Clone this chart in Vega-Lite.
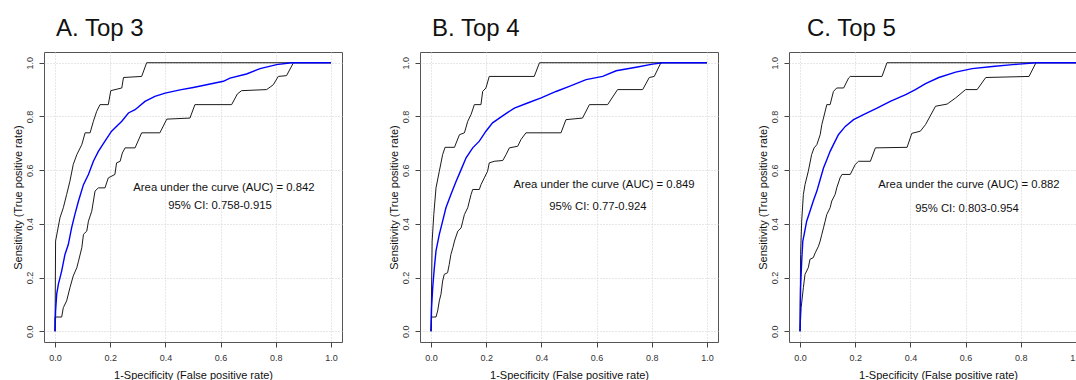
{
"$schema":"https://vega.github.io/schema/vega-lite/v6.json",
"background":"white",
"padding":{"left":11,"top":16,"right":0,"bottom":0},
"spacing":44,
"config":{"font":"Liberation Sans","view":{"stroke":"#555","strokeWidth":1},
"axis":{"domain":false,"grid":true,"gridColor":"#cfcfcf","gridDash":[1,2],"tickColor":"#444","tickSize":5,"tickWidth":1,"labelFont":"Liberation Sans","labelFontSize":9,"labelColor":"#333","titleFont":"Liberation Sans","titleFontSize":11,"titleFontWeight":"normal","titleColor":"#111"}},
"datasets":{
"roc":[
{"panel":"A","series":"upper","fpr":0,"tpr":0},{"panel":"A","series":"upper","fpr":0.002,"tpr":0.336},{"panel":"A","series":"upper","fpr":0.018,"tpr":0.423},{"panel":"A","series":"upper","fpr":0.03,"tpr":0.46},{"panel":"A","series":"upper","fpr":0.042,"tpr":0.509},{"panel":"A","series":"upper","fpr":0.054,"tpr":0.559},{"panel":"A","series":"upper","fpr":0.066,"tpr":0.621},{"panel":"A","series":"upper","fpr":0.079,"tpr":0.658},{"panel":"A","series":"upper","fpr":0.097,"tpr":0.695},{"panel":"A","series":"upper","fpr":0.109,"tpr":0.739},{"panel":"A","series":"upper","fpr":0.127,"tpr":0.739},{"panel":"A","series":"upper","fpr":0.139,"tpr":0.782},{"panel":"A","series":"upper","fpr":0.151,"tpr":0.819},{"panel":"A","series":"upper","fpr":0.163,"tpr":0.844},{"panel":"A","series":"upper","fpr":0.193,"tpr":0.844},{"panel":"A","series":"upper","fpr":0.202,"tpr":0.896},{"panel":"A","series":"upper","fpr":0.242,"tpr":0.906},{"panel":"A","series":"upper","fpr":0.248,"tpr":0.945},{"panel":"A","series":"upper","fpr":0.314,"tpr":0.949},{"panel":"A","series":"upper","fpr":0.332,"tpr":1},{"panel":"A","series":"upper","fpr":1,"tpr":1},
{"panel":"A","series":"lower","fpr":0,"tpr":0},{"panel":"A","series":"lower","fpr":0,"tpr":0.053},{"panel":"A","series":"lower","fpr":0.024,"tpr":0.053},{"panel":"A","series":"lower","fpr":0.03,"tpr":0.088},{"panel":"A","series":"lower","fpr":0.042,"tpr":0.113},{"panel":"A","series":"lower","fpr":0.054,"tpr":0.162},{"panel":"A","series":"lower","fpr":0.066,"tpr":0.206},{"panel":"A","series":"lower","fpr":0.079,"tpr":0.237},{"panel":"A","series":"lower","fpr":0.085,"tpr":0.261},{"panel":"A","series":"lower","fpr":0.097,"tpr":0.311},{"panel":"A","series":"lower","fpr":0.103,"tpr":0.361},{"panel":"A","series":"lower","fpr":0.115,"tpr":0.373},{"panel":"A","series":"lower","fpr":0.121,"tpr":0.41},{"panel":"A","series":"lower","fpr":0.133,"tpr":0.447},{"panel":"A","series":"lower","fpr":0.145,"tpr":0.522},{"panel":"A","series":"lower","fpr":0.157,"tpr":0.534},{"panel":"A","series":"lower","fpr":0.181,"tpr":0.534},{"panel":"A","series":"lower","fpr":0.193,"tpr":0.571},{"panel":"A","series":"lower","fpr":0.217,"tpr":0.584},{"panel":"A","series":"lower","fpr":0.223,"tpr":0.627},{"panel":"A","series":"lower","fpr":0.236,"tpr":0.633},{"panel":"A","series":"lower","fpr":0.244,"tpr":0.664},{"panel":"A","series":"lower","fpr":0.254,"tpr":0.683},{"panel":"A","series":"lower","fpr":0.29,"tpr":0.683},{"panel":"A","series":"lower","fpr":0.314,"tpr":0.739},{"panel":"A","series":"lower","fpr":0.38,"tpr":0.739},{"panel":"A","series":"lower","fpr":0.405,"tpr":0.79},{"panel":"A","series":"lower","fpr":0.489,"tpr":0.794},{"panel":"A","series":"lower","fpr":0.507,"tpr":0.844},{"panel":"A","series":"lower","fpr":0.64,"tpr":0.844},{"panel":"A","series":"lower","fpr":0.661,"tpr":0.884},{"panel":"A","series":"lower","fpr":0.676,"tpr":0.896},{"panel":"A","series":"lower","fpr":0.767,"tpr":0.9},{"panel":"A","series":"lower","fpr":0.791,"tpr":0.918},{"panel":"A","series":"lower","fpr":0.809,"tpr":0.949},{"panel":"A","series":"lower","fpr":0.839,"tpr":0.952},{"panel":"A","series":"lower","fpr":0.864,"tpr":1},{"panel":"A","series":"lower","fpr":1,"tpr":1},
{"panel":"A","series":"ROC","fpr":0,"tpr":0},{"panel":"A","series":"ROC","fpr":0.002,"tpr":0.076},{"panel":"A","series":"ROC","fpr":0.006,"tpr":0.138},{"panel":"A","series":"ROC","fpr":0.012,"tpr":0.175},{"panel":"A","series":"ROC","fpr":0.024,"tpr":0.224},{"panel":"A","series":"ROC","fpr":0.036,"tpr":0.286},{"panel":"A","series":"ROC","fpr":0.048,"tpr":0.323},{"panel":"A","series":"ROC","fpr":0.06,"tpr":0.385},{"panel":"A","series":"ROC","fpr":0.072,"tpr":0.435},{"panel":"A","series":"ROC","fpr":0.085,"tpr":0.485},{"panel":"A","series":"ROC","fpr":0.103,"tpr":0.546},{"panel":"A","series":"ROC","fpr":0.121,"tpr":0.584},{"panel":"A","series":"ROC","fpr":0.139,"tpr":0.633},{"panel":"A","series":"ROC","fpr":0.157,"tpr":0.67},{"panel":"A","series":"ROC","fpr":0.181,"tpr":0.708},{"panel":"A","series":"ROC","fpr":0.205,"tpr":0.745},{"panel":"A","series":"ROC","fpr":0.242,"tpr":0.782},{"panel":"A","series":"ROC","fpr":0.266,"tpr":0.813},{"panel":"A","series":"ROC","fpr":0.29,"tpr":0.825},{"panel":"A","series":"ROC","fpr":0.326,"tpr":0.856},{"panel":"A","series":"ROC","fpr":0.362,"tpr":0.875},{"panel":"A","series":"ROC","fpr":0.399,"tpr":0.887},{"panel":"A","series":"ROC","fpr":0.453,"tpr":0.899},{"panel":"A","series":"ROC","fpr":0.501,"tpr":0.908},{"panel":"A","series":"ROC","fpr":0.61,"tpr":0.931},{"panel":"A","series":"ROC","fpr":0.634,"tpr":0.943},{"panel":"A","series":"ROC","fpr":0.694,"tpr":0.958},{"panel":"A","series":"ROC","fpr":0.743,"tpr":0.978},{"panel":"A","series":"ROC","fpr":0.803,"tpr":0.993},{"panel":"A","series":"ROC","fpr":0.857,"tpr":1},{"panel":"A","series":"ROC","fpr":1,"tpr":1},
{"panel":"B","series":"upper","fpr":0,"tpr":0},{"panel":"B","series":"upper","fpr":0.004,"tpr":0.336},{"panel":"B","series":"upper","fpr":0.01,"tpr":0.435},{"panel":"B","series":"upper","fpr":0.018,"tpr":0.534},{"panel":"B","series":"upper","fpr":0.03,"tpr":0.596},{"panel":"B","series":"upper","fpr":0.042,"tpr":0.658},{"panel":"B","series":"upper","fpr":0.051,"tpr":0.685},{"panel":"B","series":"upper","fpr":0.085,"tpr":0.685},{"panel":"B","series":"upper","fpr":0.091,"tpr":0.701},{"panel":"B","series":"upper","fpr":0.103,"tpr":0.732},{"panel":"B","series":"upper","fpr":0.121,"tpr":0.739},{"panel":"B","series":"upper","fpr":0.133,"tpr":0.782},{"panel":"B","series":"upper","fpr":0.145,"tpr":0.807},{"panel":"B","series":"upper","fpr":0.157,"tpr":0.844},{"panel":"B","series":"upper","fpr":0.181,"tpr":0.844},{"panel":"B","series":"upper","fpr":0.187,"tpr":0.893},{"panel":"B","series":"upper","fpr":0.199,"tpr":0.906},{"panel":"B","series":"upper","fpr":0.211,"tpr":0.949},{"panel":"B","series":"upper","fpr":0.374,"tpr":0.949},{"panel":"B","series":"upper","fpr":0.393,"tpr":1},{"panel":"B","series":"upper","fpr":1,"tpr":1},
{"panel":"B","series":"lower","fpr":0,"tpr":0},{"panel":"B","series":"lower","fpr":0.002,"tpr":0.053},{"panel":"B","series":"lower","fpr":0.018,"tpr":0.053},{"panel":"B","series":"lower","fpr":0.024,"tpr":0.076},{"panel":"B","series":"lower","fpr":0.03,"tpr":0.113},{"panel":"B","series":"lower","fpr":0.036,"tpr":0.138},{"panel":"B","series":"lower","fpr":0.042,"tpr":0.187},{"panel":"B","series":"lower","fpr":0.048,"tpr":0.212},{"panel":"B","series":"lower","fpr":0.06,"tpr":0.218},{"panel":"B","series":"lower","fpr":0.066,"tpr":0.249},{"panel":"B","series":"lower","fpr":0.072,"tpr":0.286},{"panel":"B","series":"lower","fpr":0.079,"tpr":0.311},{"panel":"B","series":"lower","fpr":0.085,"tpr":0.336},{"panel":"B","series":"lower","fpr":0.097,"tpr":0.373},{"panel":"B","series":"lower","fpr":0.109,"tpr":0.385},{"panel":"B","series":"lower","fpr":0.115,"tpr":0.41},{"panel":"B","series":"lower","fpr":0.121,"tpr":0.435},{"panel":"B","series":"lower","fpr":0.133,"tpr":0.46},{"panel":"B","series":"lower","fpr":0.139,"tpr":0.485},{"panel":"B","series":"lower","fpr":0.145,"tpr":0.509},{"panel":"B","series":"lower","fpr":0.151,"tpr":0.528},{"panel":"B","series":"lower","fpr":0.175,"tpr":0.528},{"panel":"B","series":"lower","fpr":0.181,"tpr":0.546},{"panel":"B","series":"lower","fpr":0.193,"tpr":0.571},{"panel":"B","series":"lower","fpr":0.205,"tpr":0.596},{"panel":"B","series":"lower","fpr":0.211,"tpr":0.627},{"panel":"B","series":"lower","fpr":0.229,"tpr":0.633},{"panel":"B","series":"lower","fpr":0.26,"tpr":0.636},{"panel":"B","series":"lower","fpr":0.272,"tpr":0.658},{"panel":"B","series":"lower","fpr":0.284,"tpr":0.683},{"panel":"B","series":"lower","fpr":0.314,"tpr":0.689},{"panel":"B","series":"lower","fpr":0.326,"tpr":0.714},{"panel":"B","series":"lower","fpr":0.344,"tpr":0.739},{"panel":"B","series":"lower","fpr":0.471,"tpr":0.739},{"panel":"B","series":"lower","fpr":0.489,"tpr":0.788},{"panel":"B","series":"lower","fpr":0.549,"tpr":0.794},{"panel":"B","series":"lower","fpr":0.574,"tpr":0.844},{"panel":"B","series":"lower","fpr":0.64,"tpr":0.844},{"panel":"B","series":"lower","fpr":0.676,"tpr":0.9},{"panel":"B","series":"lower","fpr":0.767,"tpr":0.9},{"panel":"B","series":"lower","fpr":0.791,"tpr":0.945},{"panel":"B","series":"lower","fpr":0.809,"tpr":0.949},{"panel":"B","series":"lower","fpr":0.833,"tpr":1},{"panel":"B","series":"lower","fpr":1,"tpr":1},
{"panel":"B","series":"ROC","fpr":0,"tpr":0},{"panel":"B","series":"ROC","fpr":0.002,"tpr":0.088},{"panel":"B","series":"ROC","fpr":0.006,"tpr":0.162},{"panel":"B","series":"ROC","fpr":0.012,"tpr":0.237},{"panel":"B","series":"ROC","fpr":0.018,"tpr":0.299},{"panel":"B","series":"ROC","fpr":0.03,"tpr":0.361},{"panel":"B","series":"ROC","fpr":0.042,"tpr":0.41},{"panel":"B","series":"ROC","fpr":0.054,"tpr":0.46},{"panel":"B","series":"ROC","fpr":0.072,"tpr":0.509},{"panel":"B","series":"ROC","fpr":0.091,"tpr":0.559},{"panel":"B","series":"ROC","fpr":0.109,"tpr":0.602},{"panel":"B","series":"ROC","fpr":0.127,"tpr":0.646},{"panel":"B","series":"ROC","fpr":0.151,"tpr":0.683},{"panel":"B","series":"ROC","fpr":0.175,"tpr":0.708},{"panel":"B","series":"ROC","fpr":0.199,"tpr":0.745},{"panel":"B","series":"ROC","fpr":0.223,"tpr":0.776},{"panel":"B","series":"ROC","fpr":0.266,"tpr":0.807},{"panel":"B","series":"ROC","fpr":0.302,"tpr":0.831},{"panel":"B","series":"ROC","fpr":0.35,"tpr":0.85},{"panel":"B","series":"ROC","fpr":0.399,"tpr":0.869},{"panel":"B","series":"ROC","fpr":0.453,"tpr":0.893},{"panel":"B","series":"ROC","fpr":0.501,"tpr":0.912},{"panel":"B","series":"ROC","fpr":0.562,"tpr":0.937},{"panel":"B","series":"ROC","fpr":0.622,"tpr":0.949},{"panel":"B","series":"ROC","fpr":0.671,"tpr":0.97},{"panel":"B","series":"ROC","fpr":0.743,"tpr":0.983},{"panel":"B","series":"ROC","fpr":0.803,"tpr":0.995},{"panel":"B","series":"ROC","fpr":0.839,"tpr":1},{"panel":"B","series":"ROC","fpr":1,"tpr":1},
{"panel":"C","series":"upper","fpr":0,"tpr":0},{"panel":"C","series":"upper","fpr":0.002,"tpr":0.286},{"panel":"C","series":"upper","fpr":0.006,"tpr":0.41},{"panel":"C","series":"upper","fpr":0.012,"tpr":0.509},{"panel":"C","series":"upper","fpr":0.018,"tpr":0.546},{"panel":"C","series":"upper","fpr":0.03,"tpr":0.596},{"panel":"C","series":"upper","fpr":0.042,"tpr":0.658},{"panel":"C","series":"upper","fpr":0.051,"tpr":0.683},{"panel":"C","series":"upper","fpr":0.061,"tpr":0.695},{"panel":"C","series":"upper","fpr":0.073,"tpr":0.732},{"panel":"C","series":"upper","fpr":0.079,"tpr":0.77},{"panel":"C","series":"upper","fpr":0.085,"tpr":0.794},{"panel":"C","series":"upper","fpr":0.097,"tpr":0.844},{"panel":"C","series":"upper","fpr":0.109,"tpr":0.844},{"panel":"C","series":"upper","fpr":0.121,"tpr":0.893},{"panel":"C","series":"upper","fpr":0.133,"tpr":0.906},{"panel":"C","series":"upper","fpr":0.158,"tpr":0.906},{"panel":"C","series":"upper","fpr":0.176,"tpr":0.943},{"panel":"C","series":"upper","fpr":0.182,"tpr":0.949},{"panel":"C","series":"upper","fpr":0.297,"tpr":0.949},{"panel":"C","series":"upper","fpr":0.315,"tpr":1},{"panel":"C","series":"upper","fpr":1,"tpr":1},
{"panel":"C","series":"lower","fpr":0,"tpr":0},{"panel":"C","series":"lower","fpr":0.004,"tpr":0.088},{"panel":"C","series":"lower","fpr":0.012,"tpr":0.162},{"panel":"C","series":"lower","fpr":0.018,"tpr":0.212},{"panel":"C","series":"lower","fpr":0.03,"tpr":0.237},{"panel":"C","series":"lower","fpr":0.036,"tpr":0.268},{"panel":"C","series":"lower","fpr":0.048,"tpr":0.274},{"panel":"C","series":"lower","fpr":0.055,"tpr":0.292},{"panel":"C","series":"lower","fpr":0.067,"tpr":0.317},{"panel":"C","series":"lower","fpr":0.073,"tpr":0.336},{"panel":"C","series":"lower","fpr":0.079,"tpr":0.361},{"panel":"C","series":"lower","fpr":0.085,"tpr":0.385},{"panel":"C","series":"lower","fpr":0.091,"tpr":0.41},{"panel":"C","series":"lower","fpr":0.097,"tpr":0.435},{"panel":"C","series":"lower","fpr":0.109,"tpr":0.46},{"panel":"C","series":"lower","fpr":0.115,"tpr":0.485},{"panel":"C","series":"lower","fpr":0.127,"tpr":0.509},{"panel":"C","series":"lower","fpr":0.133,"tpr":0.534},{"panel":"C","series":"lower","fpr":0.145,"tpr":0.571},{"panel":"C","series":"lower","fpr":0.152,"tpr":0.584},{"panel":"C","series":"lower","fpr":0.182,"tpr":0.584},{"panel":"C","series":"lower","fpr":0.2,"tpr":0.621},{"panel":"C","series":"lower","fpr":0.212,"tpr":0.633},{"panel":"C","series":"lower","fpr":0.255,"tpr":0.633},{"panel":"C","series":"lower","fpr":0.273,"tpr":0.683},{"panel":"C","series":"lower","fpr":0.388,"tpr":0.685},{"panel":"C","series":"lower","fpr":0.405,"tpr":0.737},{"panel":"C","series":"lower","fpr":0.436,"tpr":0.745},{"panel":"C","series":"lower","fpr":0.455,"tpr":0.77},{"panel":"C","series":"lower","fpr":0.491,"tpr":0.838},{"panel":"C","series":"lower","fpr":0.533,"tpr":0.846},{"panel":"C","series":"lower","fpr":0.564,"tpr":0.869},{"panel":"C","series":"lower","fpr":0.6,"tpr":0.9},{"panel":"C","series":"lower","fpr":0.642,"tpr":0.9},{"panel":"C","series":"lower","fpr":0.673,"tpr":0.945},{"panel":"C","series":"lower","fpr":0.83,"tpr":0.949},{"panel":"C","series":"lower","fpr":0.855,"tpr":1},{"panel":"C","series":"lower","fpr":1,"tpr":1},
{"panel":"C","series":"ROC","fpr":0,"tpr":0},{"panel":"C","series":"ROC","fpr":0.002,"tpr":0.162},{"panel":"C","series":"ROC","fpr":0.006,"tpr":0.261},{"panel":"C","series":"ROC","fpr":0.01,"tpr":0.336},{"panel":"C","series":"ROC","fpr":0.015,"tpr":0.361},{"panel":"C","series":"ROC","fpr":0.024,"tpr":0.41},{"panel":"C","series":"ROC","fpr":0.036,"tpr":0.447},{"panel":"C","series":"ROC","fpr":0.048,"tpr":0.485},{"panel":"C","series":"ROC","fpr":0.061,"tpr":0.522},{"panel":"C","series":"ROC","fpr":0.073,"tpr":0.565},{"panel":"C","series":"ROC","fpr":0.085,"tpr":0.608},{"panel":"C","series":"ROC","fpr":0.097,"tpr":0.639},{"panel":"C","series":"ROC","fpr":0.109,"tpr":0.67},{"panel":"C","series":"ROC","fpr":0.121,"tpr":0.695},{"panel":"C","series":"ROC","fpr":0.139,"tpr":0.732},{"panel":"C","series":"ROC","fpr":0.164,"tpr":0.763},{"panel":"C","series":"ROC","fpr":0.194,"tpr":0.788},{"panel":"C","series":"ROC","fpr":0.23,"tpr":0.807},{"panel":"C","series":"ROC","fpr":0.279,"tpr":0.831},{"panel":"C","series":"ROC","fpr":0.327,"tpr":0.856},{"panel":"C","series":"ROC","fpr":0.385,"tpr":0.882},{"panel":"C","series":"ROC","fpr":0.418,"tpr":0.9},{"panel":"C","series":"ROC","fpr":0.455,"tpr":0.922},{"panel":"C","series":"ROC","fpr":0.503,"tpr":0.945},{"panel":"C","series":"ROC","fpr":0.564,"tpr":0.965},{"panel":"C","series":"ROC","fpr":0.624,"tpr":0.978},{"panel":"C","series":"ROC","fpr":0.697,"tpr":0.986},{"panel":"C","series":"ROC","fpr":0.77,"tpr":0.993},{"panel":"C","series":"ROC","fpr":0.855,"tpr":1},{"panel":"C","series":"ROC","fpr":1,"tpr":1}
],
"notes":[
{"panel":"A","fpr":0.612,"tpr":0.535,"label":"Area under the curve (AUC) = 0.842"},
{"panel":"A","fpr":0.598,"tpr":0.468,"label":"95% CI: 0.758-0.915"},
{"panel":"B","fpr":0.627,"tpr":0.544,"label":"Area under the curve (AUC) = 0.849"},
{"panel":"B","fpr":0.605,"tpr":0.463,"label":"95% CI: 0.77-0.924"},
{"panel":"C","fpr":0.612,"tpr":0.544,"label":"Area under the curve (AUC) = 0.882"},
{"panel":"C","fpr":0.605,"tpr":0.457,"label":"95% CI: 0.803-0.954"}
]},
"hconcat":[
{"width":298,"height":290,
"title":{"text":"A. Top 3","anchor":"start","frame":"group","dx":12,"offset":-8,"baseline":"alphabetic","fontSize":24,"fontWeight":"normal","font":"Liberation Sans","color":"#111"},
"layer":[
{"data":{"name":"roc"},"transform":[{"filter":"datum.panel === 'A' && datum.series !== 'ROC'"}],"mark":{"type":"line","color":"#1b1b1b","strokeWidth":1},
"encoding":{"x":{"field":"fpr","type":"quantitative","scale":{"domain":[-0.04,1.04],"nice":false,"zero":false},"axis":{"title":"1-Specificity (False positive rate)","values":[0,0.1,0.2,0.3,0.4,0.5,0.6,0.7,0.8,0.9,1],"labelExpr":"round(datum.value*10)%2===0 ? format(datum.value,'.1f') : ''","tickOpacity":{"condition":{"test":"round(datum.value*10)%2===0","value":1},"value":0},"labelPadding":6,"titlePadding":7,"labelOverlap":false,"labelFlush":false}},
"y":{"field":"tpr","type":"quantitative","scale":{"domain":[-0.04,1.04],"nice":false,"zero":false},"axis":{"title":"Sensitivity (True positive rate)","values":[0,0.1,0.2,0.3,0.4,0.5,0.6,0.7,0.8,0.9,1],"labelExpr":"round(datum.value*10)%2===0 ? format(datum.value,'.1f') : ''","tickOpacity":{"condition":{"test":"round(datum.value*10)%2===0","value":1},"value":0},"labelAngle":270,"labelAlign":"center","labelBaseline":"bottom","labelPadding":5,"titlePadding":2,"labelOverlap":false,"labelFlush":false}},
"detail":{"field":"series"},"order":[{"field":"fpr","type":"quantitative"},{"field":"tpr","type":"quantitative"}]}},
{"data":{"name":"roc"},"transform":[{"filter":"datum.panel === 'A' && datum.series === 'ROC'"}],"mark":{"type":"line","color":"#0000ff","strokeWidth":1.4},
"encoding":{"x":{"field":"fpr","type":"quantitative"},"y":{"field":"tpr","type":"quantitative"},"order":[{"field":"fpr","type":"quantitative"},{"field":"tpr","type":"quantitative"}]}},
{"data":{"name":"notes"},"transform":[{"filter":"datum.panel === 'A'"}],"mark":{"type":"text","fontSize":11.3,"font":"Liberation Sans","color":"#111","align":"center","baseline":"middle"},
"encoding":{"x":{"field":"fpr","type":"quantitative"},"y":{"field":"tpr","type":"quantitative"},"text":{"field":"label"}}}
]},
{"spacing":37,"hconcat":[
{"width":298,"height":290,
"title":{"text":"B. Top 4","anchor":"start","frame":"group","dx":12,"offset":-8,"baseline":"alphabetic","fontSize":24,"fontWeight":"normal","font":"Liberation Sans","color":"#111"},
"layer":[
{"data":{"name":"roc"},"transform":[{"filter":"datum.panel === 'B' && datum.series !== 'ROC'"}],"mark":{"type":"line","color":"#1b1b1b","strokeWidth":1},
"encoding":{"x":{"field":"fpr","type":"quantitative","scale":{"domain":[-0.04,1.04],"nice":false,"zero":false},"axis":{"title":"1-Specificity (False positive rate)","values":[0,0.1,0.2,0.3,0.4,0.5,0.6,0.7,0.8,0.9,1],"labelExpr":"round(datum.value*10)%2===0 ? format(datum.value,'.1f') : ''","tickOpacity":{"condition":{"test":"round(datum.value*10)%2===0","value":1},"value":0},"labelPadding":6,"titlePadding":7,"labelOverlap":false,"labelFlush":false}},
"y":{"field":"tpr","type":"quantitative","scale":{"domain":[-0.04,1.04],"nice":false,"zero":false},"axis":{"title":"Sensitivity (True positive rate)","values":[0,0.1,0.2,0.3,0.4,0.5,0.6,0.7,0.8,0.9,1],"labelExpr":"round(datum.value*10)%2===0 ? format(datum.value,'.1f') : ''","tickOpacity":{"condition":{"test":"round(datum.value*10)%2===0","value":1},"value":0},"labelAngle":270,"labelAlign":"center","labelBaseline":"bottom","labelPadding":5,"titlePadding":2,"labelOverlap":false,"labelFlush":false}},
"detail":{"field":"series"},"order":[{"field":"fpr","type":"quantitative"},{"field":"tpr","type":"quantitative"}]}},
{"data":{"name":"roc"},"transform":[{"filter":"datum.panel === 'B' && datum.series === 'ROC'"}],"mark":{"type":"line","color":"#0000ff","strokeWidth":1.4},
"encoding":{"x":{"field":"fpr","type":"quantitative"},"y":{"field":"tpr","type":"quantitative"},"order":[{"field":"fpr","type":"quantitative"},{"field":"tpr","type":"quantitative"}]}},
{"data":{"name":"notes"},"transform":[{"filter":"datum.panel === 'B'"}],"mark":{"type":"text","fontSize":11.3,"font":"Liberation Sans","color":"#111","align":"center","baseline":"middle"},
"encoding":{"x":{"field":"fpr","type":"quantitative"},"y":{"field":"tpr","type":"quantitative"},"text":{"field":"label"}}}
]},
{"width":298,"height":290,
"title":{"text":"C. Top 5","anchor":"start","frame":"group","dx":18,"offset":-8,"baseline":"alphabetic","fontSize":24,"fontWeight":"normal","font":"Liberation Sans","color":"#111"},
"layer":[
{"data":{"name":"roc"},"transform":[{"filter":"datum.panel === 'C' && datum.series !== 'ROC'"}],"mark":{"type":"line","color":"#1b1b1b","strokeWidth":1},
"encoding":{"x":{"field":"fpr","type":"quantitative","scale":{"domain":[-0.04,1.04],"nice":false,"zero":false},"axis":{"title":"1-Specificity (False positive rate)","values":[0,0.1,0.2,0.3,0.4,0.5,0.6,0.7,0.8,0.9,1],"labelExpr":"round(datum.value*10)%2===0 ? format(datum.value,'.1f') : ''","tickOpacity":{"condition":{"test":"round(datum.value*10)%2===0","value":1},"value":0},"labelPadding":6,"titlePadding":7,"labelOverlap":false,"labelFlush":false}},
"y":{"field":"tpr","type":"quantitative","scale":{"domain":[-0.04,1.04],"nice":false,"zero":false},"axis":{"title":"Sensitivity (True positive rate)","values":[0,0.1,0.2,0.3,0.4,0.5,0.6,0.7,0.8,0.9,1],"labelExpr":"round(datum.value*10)%2===0 ? format(datum.value,'.1f') : ''","tickOpacity":{"condition":{"test":"round(datum.value*10)%2===0","value":1},"value":0},"labelAngle":270,"labelAlign":"center","labelBaseline":"bottom","labelPadding":5,"titlePadding":2,"labelOverlap":false,"labelFlush":false}},
"detail":{"field":"series"},"order":[{"field":"fpr","type":"quantitative"},{"field":"tpr","type":"quantitative"}]}},
{"data":{"name":"roc"},"transform":[{"filter":"datum.panel === 'C' && datum.series === 'ROC'"}],"mark":{"type":"line","color":"#0000ff","strokeWidth":1.4},
"encoding":{"x":{"field":"fpr","type":"quantitative"},"y":{"field":"tpr","type":"quantitative"},"order":[{"field":"fpr","type":"quantitative"},{"field":"tpr","type":"quantitative"}]}},
{"data":{"name":"notes"},"transform":[{"filter":"datum.panel === 'C'"}],"mark":{"type":"text","fontSize":11.3,"font":"Liberation Sans","color":"#111","align":"center","baseline":"middle"},
"encoding":{"x":{"field":"fpr","type":"quantitative"},"y":{"field":"tpr","type":"quantitative"},"text":{"field":"label"}}}
]}
]}
]
}
